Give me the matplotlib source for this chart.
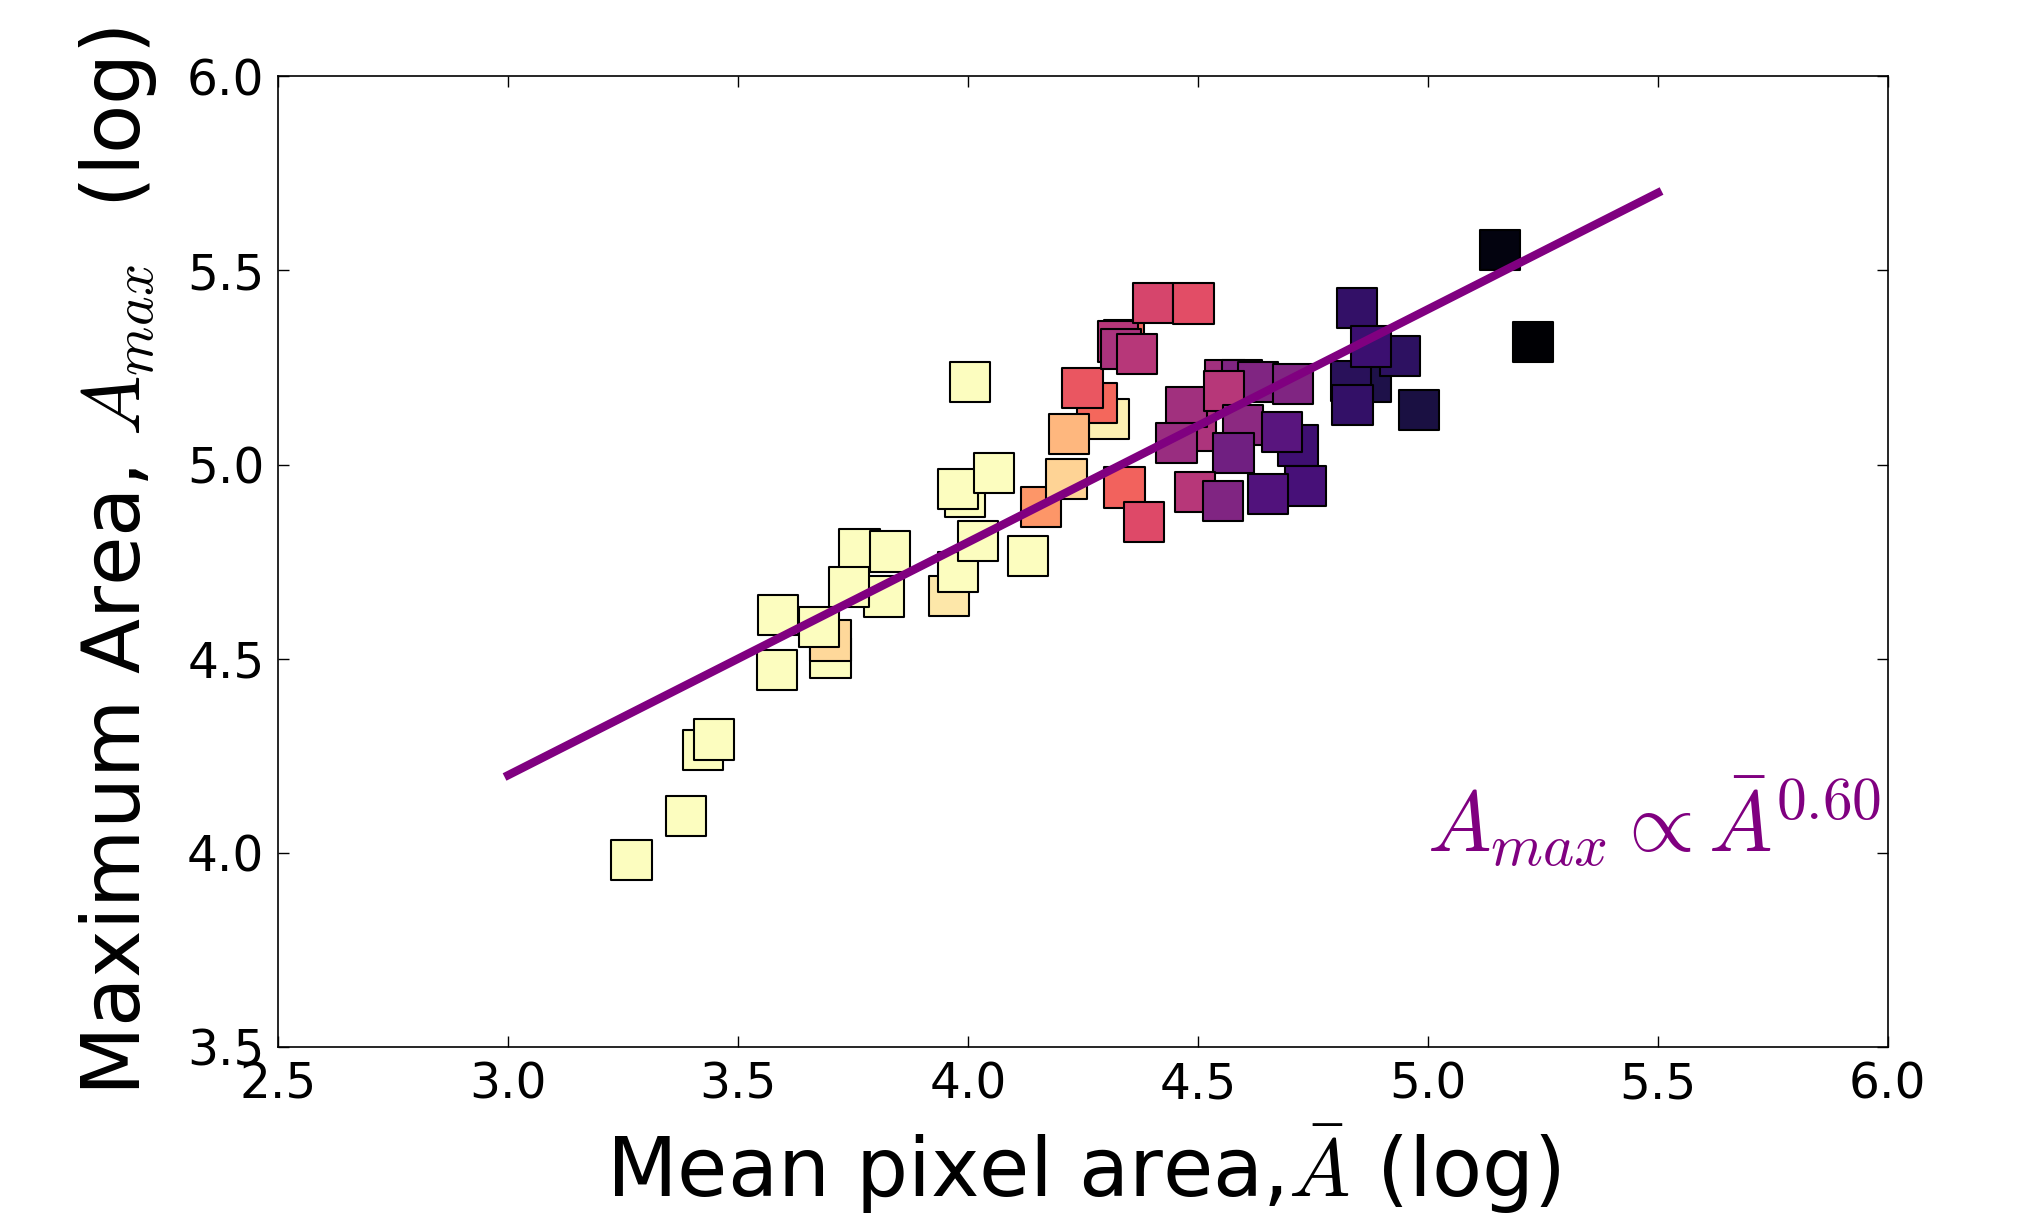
import matplotlib
matplotlib.use('Agg')
import matplotlib.pyplot as plt
import numpy as np

plt.rcParams['mathtext.fontset'] = 'cm'
plt.rcParams['font.family'] = ['DejaVu Sans']

# log mean pixel area (x), log maximum area (y), colour value (magma)
mean_area_log = [3.268, 3.387, 3.423, 3.448, 3.584, 3.701, 3.701, 3.676, 3.587, 3.764,
                 3.830, 3.817, 3.741, 3.959, 3.978, 4.022, 4.130, 3.993, 3.978, 4.056,
                 4.004, 4.307, 4.280, 4.249, 4.159, 4.214, 4.220, 4.339, 4.326, 4.332,
                 4.367, 4.402, 4.490, 4.340, 4.383, 4.495, 4.475, 4.453, 4.558, 4.595,
                 4.630, 4.707, 4.556, 4.598, 4.577, 4.717, 4.683, 4.493, 4.554, 4.734,
                 4.653, 4.876, 4.832, 4.836, 4.846, 4.940, 4.877, 4.980, 5.228, 5.156]
max_area_log = [3.981, 4.095, 4.264, 4.292, 4.470, 4.501, 4.547, 4.581, 4.612, 4.781,
                4.776, 4.660, 4.685, 4.662, 4.723, 4.803, 4.765, 4.918, 4.937, 4.979,
                5.212, 5.117, 5.158, 5.198, 4.891, 4.963, 5.078, 5.321, 5.317, 5.298,
                5.285, 5.417, 5.415, 4.941, 4.852, 5.088, 5.149, 5.056, 5.218, 5.218,
                5.212, 5.208, 5.189, 5.102, 5.029, 5.049, 5.083, 4.929, 4.906, 4.944,
                4.924, 5.212, 5.216, 5.154, 5.404, 5.280, 5.304, 5.140, 5.315, 5.552]
color_value = [1.0, 1.0, 1.0, 1.0, 1.0, 1.0, 0.92, 1.0, 1.0, 1.0,
               1.0, 1.0, 1.0, 0.95, 1.0, 1.0, 1.0, 1.0, 1.0, 1.0,
               1.0, 0.97, 0.68, 0.64, 0.78, 0.91, 0.85, 0.68, 0.50, 0.47,
               0.50, 0.58, 0.61, 0.67, 0.60, 0.48, 0.45, 0.43, 0.45, 0.37,
               0.37, 0.37, 0.50, 0.40, 0.33, 0.21, 0.27, 0.50, 0.37, 0.23,
               0.25, 0.13, 0.16, 0.18, 0.18, 0.17, 0.20, 0.12, 0.00, 0.03]

fit_x = [3.0, 5.5]
fit_slope = 0.60
fit_intercept = 2.40

fig = plt.figure(figsize=(20.32, 12.13), dpi=100)
ax = fig.add_axes([0.137, 0.137, 0.792, 0.800])

ax.scatter(mean_area_log, max_area_log, c=color_value, cmap='magma', vmin=0, vmax=1,
           marker='s', s=840, edgecolors='black', linewidths=1.5, zorder=2)

fx = np.array(fit_x)
ax.plot(fx, fit_slope * fx + fit_intercept, color='purple', lw=6, zorder=3)

ax.text(5.985, 4.0, r'$A_{max} \propto \bar{A}^{0.60}$', color='purple',
        fontsize=61, ha='right', va='baseline', zorder=4)

ax.set_xlim(2.5, 6.0)
ax.set_ylim(3.5, 6.0)
ax.set_xticks([2.5, 3.0, 3.5, 4.0, 4.5, 5.0, 5.5, 6.0])
ax.set_yticks([3.5, 4.0, 4.5, 5.0, 5.5, 6.0])
ax.set_xticklabels(['2.5', '3.0', '3.5', '4.0', '4.5', '5.0', '5.5', '6.0'])
ax.set_yticklabels(['3.5', '4.0', '4.5', '5.0', '5.5', '6.0'])
ax.tick_params(direction='in', top=True, right=True, length=8, width=1,
               labelsize=35, pad=10)
for sp in ax.spines.values():
    sp.set_linewidth(1.2)

ax.set_xlabel(r'Mean pixel area,$\bar{A}$ (log)', fontsize=59)
ax.set_ylabel(r'Maximum Area, $A_{max}$  (log)', fontsize=58)
ax.xaxis.set_label_coords(0.5, -0.078)
ax.yaxis.set_label_coords(-0.074, 0.5)

fig.savefig('out.png', dpi=100, facecolor='white')
